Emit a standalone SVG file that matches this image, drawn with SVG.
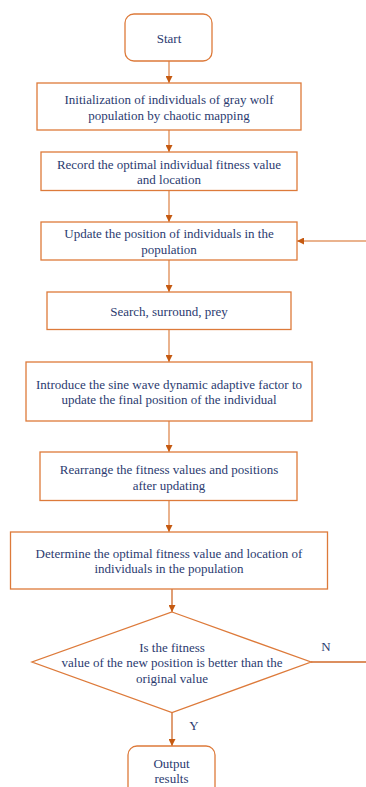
<svg xmlns="http://www.w3.org/2000/svg" width="366" height="787" viewBox="0 0 366 787">
<style>
.b{fill:#fff;stroke:#DD7A3A;stroke-width:1.3}
.t{font-family:'Liberation Serif',serif;font-size:13px;fill:#2B3B70;text-anchor:middle;dominant-baseline:central}
.c{stroke:#E39A68;stroke-width:1.5;fill:none}
.cd{stroke:#D06A2A;stroke-width:1.3;fill:none}
</style>
<defs>
<marker id="ah" viewBox="0 0 10 10" refX="10" refY="5" markerWidth="7" markerHeight="7" markerUnits="userSpaceOnUse" orient="auto">
<path d="M0,0 L10,5 L0,10 Z" fill="#C55A11"/>
</marker>
</defs>
<rect width="366" height="787" fill="#fff"/>
<g id="connectors">
<line class="c" x1="169" y1="61" x2="169" y2="83" marker-end="url(#ah)"/>
<line class="c" x1="169" y1="130" x2="169" y2="152" marker-end="url(#ah)"/>
<line class="c" x1="169" y1="191" x2="169" y2="222" marker-end="url(#ah)"/>
<line class="c" x1="366" y1="241" x2="297" y2="241" marker-end="url(#ah)"/>
<line class="c" x1="169" y1="260" x2="169" y2="292" marker-end="url(#ah)"/>
<line class="c" x1="169" y1="330" x2="169" y2="362" marker-end="url(#ah)"/>
<line class="c" x1="169" y1="421" x2="169" y2="452" marker-end="url(#ah)"/>
<line class="c" x1="169" y1="501" x2="169" y2="532" marker-end="url(#ah)"/>
<line class="cd" x1="172" y1="589" x2="172" y2="612" marker-end="url(#ah)"/>
<line class="cd" x1="311" y1="662" x2="366" y2="662"/>
<line class="cd" x1="172" y1="712" x2="172" y2="746" marker-end="url(#ah)"/>
<text class="t" x="326" y="646">N</text>
<text class="t" x="194" y="725">Y</text>
</g>
<g id="start">
<rect class="b" x="125" y="14" width="87" height="47" rx="9"/>
<text class="t" x="169" y="38">Start</text>
</g>
<g id="init">
<rect class="b" x="37" y="83" width="264" height="47"/>
<text class="t" x="169" y="99">Initialization of individuals of gray wolf</text>
<text class="t" x="169" y="115">population by chaotic mapping</text>
</g>
<g id="record">
<rect class="b" x="41" y="152" width="256" height="38.5"/>
<text class="t" x="169" y="164">Record the optimal individual fitness value</text>
<text class="t" x="169" y="179">and location</text>
</g>
<g id="update">
<rect class="b" x="41" y="222" width="256" height="38"/>
<text class="t" x="169" y="233">Update the position of individuals in the</text>
<text class="t" x="169" y="249">population</text>
</g>
<g id="search">
<rect class="b" x="47" y="292" width="244" height="37.5"/>
<text class="t" x="169" y="311">Search, surround, prey</text>
</g>
<g id="sine">
<rect class="b" x="26" y="362" width="286" height="59"/>
<text class="t" x="169" y="384">Introduce the sine wave dynamic adaptive factor to</text>
<text class="t" x="169" y="399">update the final position of the individual</text>
</g>
<g id="rearrange">
<rect class="b" x="40" y="452" width="257" height="48.5"/>
<text class="t" x="169" y="469">Rearrange the fitness values and positions</text>
<text class="t" x="169" y="485">after updating</text>
</g>
<g id="determine">
<rect class="b" x="10.5" y="532" width="317" height="57"/>
<text class="t" x="169" y="553">Determine the optimal fitness value and location of</text>
<text class="t" x="169" y="568.5">individuals in the population</text>
</g>
<g id="decision">
<polygon class="b" points="172,612 311,662 172,712.5 32,662"/>
<text class="t" x="172" y="647">Is the fitness</text>
<text class="t" x="172" y="662">value of the new position is better than the</text>
<text class="t" x="172" y="678">original value</text>
</g>
<g id="output">
<rect class="b" x="128" y="746" width="87" height="60" rx="9"/>
<text class="t" x="171.5" y="763">Output</text>
<text class="t" x="171.5" y="778">results</text>
</g>
</svg>
